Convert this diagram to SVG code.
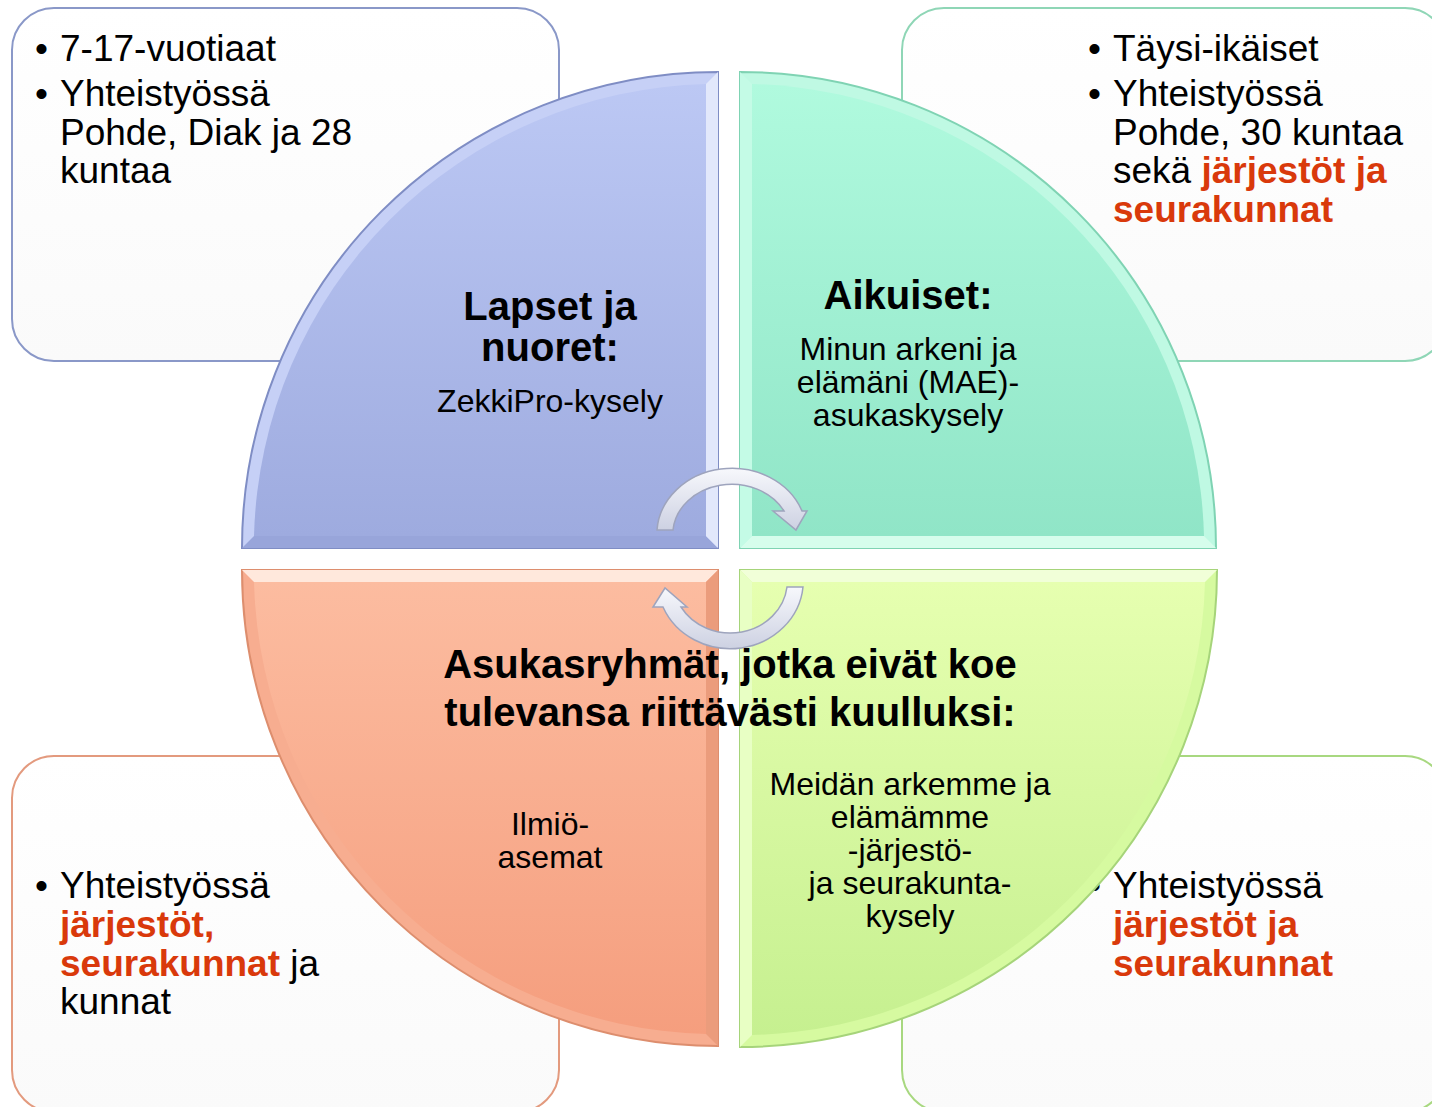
<svg xmlns="http://www.w3.org/2000/svg" width="1432" height="1107" viewBox="0 0 1432 1107">
<style>
.t{font-family:"Liberation Sans",Arial,sans-serif;fill:#000}
.box{font-size:37px}
.red{fill:#d9390b;font-weight:bold}
.q{font-size:32px}
.qh{font-size:40px;font-weight:bold}
.arr{fill:url(#gArr);stroke:#9ea4bd;stroke-width:1.5}
</style>
<defs>
<linearGradient id="gBox" x1="0" y1="0" x2="0" y2="1"><stop offset="0" stop-color="#ffffff"/><stop offset="1" stop-color="#fafafa"/></linearGradient>
<linearGradient id="gTL" x1="0" y1="0" x2="0" y2="1"><stop offset="0" stop-color="#bcc8f4"/><stop offset="1" stop-color="#9eabdf"/></linearGradient>
<linearGradient id="gTR" x1="0" y1="0" x2="0" y2="1"><stop offset="0" stop-color="#b0fade"/><stop offset="1" stop-color="#90e5c7"/></linearGradient>
<linearGradient id="gBL" x1="0" y1="0" x2="0" y2="1"><stop offset="0" stop-color="#fcbca0"/><stop offset="1" stop-color="#f59e7e"/></linearGradient>
<linearGradient id="gBR" x1="0" y1="0" x2="0" y2="1"><stop offset="0" stop-color="#e6ffb0"/><stop offset="1" stop-color="#c6f090"/></linearGradient>
<linearGradient id="gArr" x1="0" y1="0" x2="0" y2="1"><stop offset="0" stop-color="#f7f8fc"/><stop offset="1" stop-color="#cdd1e2"/></linearGradient>
</defs>

<g id="box-tl"><rect x="12" y="8" width="547" height="353" rx="42" fill="url(#gBox)" stroke="#8a98c8" stroke-width="2"/></g>
<g id="box-tr"><rect x="902" y="8" width="545" height="353" rx="42" fill="url(#gBox)" stroke="#8fd6b6" stroke-width="2"/></g>
<g id="box-bl"><rect x="12" y="756" width="547" height="356" rx="42" fill="url(#gBox)" stroke="#e39a7e" stroke-width="2"/></g>
<g id="box-br"><rect x="902" y="756" width="545" height="356" rx="42" fill="url(#gBox)" stroke="#a8d880" stroke-width="2"/></g>

<g id="box-tl-text" class="t box">
<text x="35" y="61">•</text><text x="60" y="61">7-17-vuotiaat</text>
<text x="35" y="106">•</text><text x="60" y="106">Yhteistyössä</text>
<text x="60" y="145">Pohde, Diak ja 28</text>
<text x="60" y="183">kuntaa</text>
</g>
<g id="box-tr-text" class="t box">
<text x="1088" y="61">•</text><text x="1113" y="61">Täysi-ikäiset</text>
<text x="1088" y="106">•</text><text x="1113" y="106">Yhteistyössä</text>
<text x="1113" y="145">Pohde, 30 kuntaa</text>
<text x="1113" y="183">sekä <tspan class="red">järjestöt ja</tspan></text>
<text x="1113" y="222" class="red">seurakunnat</text>
</g>
<g id="box-bl-text" class="t box">
<text x="35" y="898">•</text><text x="60" y="898">Yhteistyössä</text>
<text x="60" y="937" class="red">järjestöt,</text>
<text x="60" y="976"><tspan class="red">seurakunnat</tspan> ja</text>
<text x="60" y="1014">kunnat</text>
</g>
<g id="box-br-text" class="t box">
<text x="1088" y="898">•</text><text x="1113" y="898">Yhteistyössä</text>
<text x="1113" y="937" class="red">järjestöt ja</text>
<text x="1113" y="976" class="red">seurakunnat</text>
</g>

<g id="q-tl">
<path d="M718 548 L242 548 A476 476 0 0 1 718 72 Z" fill="#c6d0f6" stroke="#7f8dc4" stroke-width="2"/>
<path d="M706 536 L254 536 A464 464 0 0 1 706 84 Z" fill="url(#gTL)"/>
<path d="M706 536 L254 536 L242 548 L718 548 Z" fill="#98a5da"/>
<path d="M706 84 L706 536 L718 548 L718 72 Z" fill="#e2e8fb"/>
</g>
<g id="q-tr">
<path d="M740 548 L740 72 A476 476 0 0 1 1216 548 Z" fill="#bff9e3" stroke="#7fd3b3" stroke-width="2"/>
<path d="M752 536 L752 84 A464 464 0 0 1 1204 536 Z" fill="url(#gTR)"/>
<path d="M752 536 L1204 536 L1216 548 L740 548 Z" fill="#d6fdec"/>
<path d="M752 84 L752 536 L740 548 L740 72 Z" fill="#c4fbe6"/>
</g>
<g id="q-bl">
<path d="M718 570 L718 1046 A476 476 0 0 1 242 570 Z" fill="#f7ad90" stroke="#dd8e6e" stroke-width="2"/>
<path d="M706 582 L706 1034 A464 464 0 0 1 254 582 Z" fill="url(#gBL)"/>
<path d="M254 582 L706 582 L718 570 L242 570 Z" fill="#ffe8dc"/>
<path d="M706 582 L706 1034 L718 1046 L718 570 Z" fill="#eb9c7c"/>
</g>
<g id="q-br">
<path d="M740 570 L1217 570 A477 477 0 0 1 740 1047 Z" fill="#d6faa0" stroke="#a6d47a" stroke-width="2"/>
<path d="M752 582 L1205 582 A465 465 0 0 1 752 1035 Z" fill="url(#gBR)"/>
<path d="M752 582 L1205 582 L1217 570 L740 570 Z" fill="#f1ffd8"/>
<path d="M752 582 L752 1035 L740 1047 L740 570 Z" fill="#e8ffc4"/>
</g>

<g id="connectors">
<path class="arr" d="M657 530 A75 66 0 0 1 802 511 L807 511 L796 530 L773 511 L784 511 A59 50 0 0 0 673 530 Z"/>
<path class="arr" d="M803 587 A73 68 0 0 1 663 607 L653 607 L665 588 L687 607 L681 607 A57 52 0 0 0 787 587 Z"/>
</g>

<g id="q-tl-text" class="t" text-anchor="middle">
<text x="550" y="320" class="qh">Lapset ja</text>
<text x="550" y="361" class="qh">nuoret:</text>
<text x="550" y="412" class="q">ZekkiPro-kysely</text>
</g>
<g id="q-tr-text" class="t" text-anchor="middle">
<text x="908" y="309" class="qh">Aikuiset:</text>
<text x="908" y="360" class="q">Minun arkeni ja</text>
<text x="908" y="393" class="q">elämäni (MAE)-</text>
<text x="908" y="426" class="q">asukaskysely</text>
</g>
<g id="q-bl-text" class="t q" text-anchor="middle">
<text x="550" y="835">Ilmiö-</text>
<text x="550" y="868">asemat</text>
</g>
<g id="q-br-text" class="t q" text-anchor="middle">
<text x="910" y="795">Meidän arkemme ja</text>
<text x="910" y="828">elämämme</text>
<text x="910" y="861">-järjestö-</text>
<text x="910" y="894">ja seurakunta-</text>
<text x="910" y="927">kysely</text>
</g>
<g id="center-title" class="t qh" text-anchor="middle">
<text x="730" y="678">Asukasryhmät, jotka eivät koe</text>
<text x="730" y="726">tulevansa riittävästi kuulluksi:</text>
</g>
</svg>
